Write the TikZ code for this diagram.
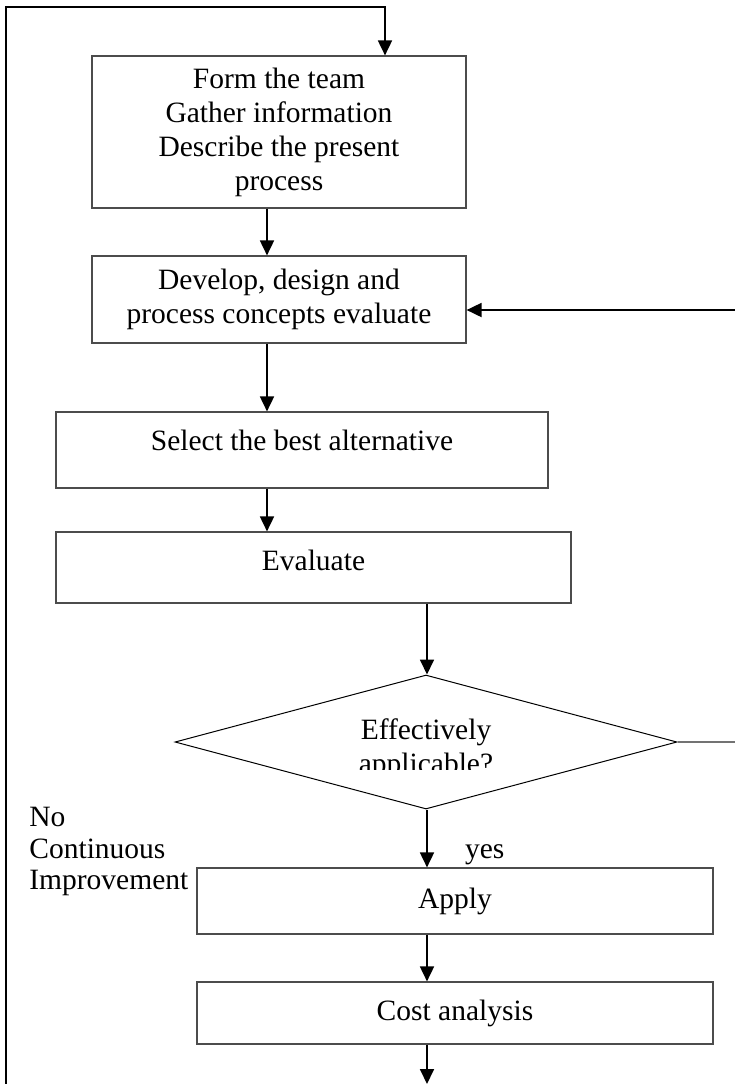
\documentclass[tikz,border=0pt]{standalone}
\usepackage{fontspec}
\setmainfont{Liberation Serif}
\usetikzlibrary{arrows.meta,shapes.geometric}

\begin{document}
\begin{tikzpicture}[x=0.5pt,y=-0.5pt,
  every node/.style={font=\fontsize{14.75pt}{17pt}\selectfont},
  box/.style={draw=black!70,line width=0.6pt,inner sep=0pt,align=center},
  arr/.style={-{Triangle[length=7.5pt,width=7pt]},line width=0.9pt}]

\useasboundingbox (0,0) rectangle (735,1084);

% Kaesten
\node[box,minimum width=187pt,minimum height=76pt] (b1) at (279,132)
  {Form the team\\Gather information\\Describe the present\\process};
\node[box,minimum width=187pt,minimum height=43.5pt] (b2) at (279,299.5)
  {Develop, design and\\process concepts evaluate};
\node[box,minimum width=246pt,minimum height=38pt] (b3) at (302,450) {};
\node (t3) at (302,440) {Select the best alternative};
\node[box,minimum width=257.5pt,minimum height=35.5pt] (b4) at (313.5,567.5) {};
\node (t4) at (313.5,560) {Evaluate};
\node[diamond,draw,line width=0.5pt,inner sep=0pt,
  minimum width=251pt,minimum height=67pt] (dec) at (426,742) {};
\node[box,minimum width=258pt,minimum height=33pt] (ap) at (455,901) {Apply};
\node[box,minimum width=258pt,minimum height=31pt] (ca) at (455,1013) {Cost analysis};

% Frage, unten abgeschnitten
\begin{scope}
\clip (175,650) rectangle (677,769);
\node[align=center] (q) at (426,749) {Effectively\\applicable?};
\end{scope}

\node[anchor=base west] (yes) at (458,858) {yes};
\node[anchor=north west,align=left,inner sep=0pt,
  font=\fontsize{14.75pt}{15.75pt}\selectfont] (no) at (29,807)
  {No\\Continuous\\Improvement};

% Hilfspunkte
\coordinate (c0) at (385,0);
\coordinate (c1) at (267,0);
\coordinate (c2) at (427,0);
\coordinate (lt) at (6,7);
\coordinate (lb) at (6,1084);
\coordinate (rt) at (735,310);
\coordinate (rd) at (735,742);
\coordinate (end) at (427,1084);

% Rueckfuehrung links
\draw[arr] (lb) -- (lt) -| (b1.north -| c0);
% Pfeile
\draw[arr] (b1.south -| c1) -- (b2.north -| c1);
\draw[arr] (b2.south -| c1) -- (b3.north -| c1);
\draw[arr] (b3.south -| c1) -- (b4.north -| c1);
\draw[arr] (b4.south -| c2) -- (dec.north -| c2);
\draw[arr] (dec.south -| c2) -- (ap.north -| c2);
\draw[arr] (ap.south -| c2) -- (ca.north -| c2);
\draw[arr] (ca.south -| c2) -- (end);
\draw[arr] (rt) -- (b2.east |- rt);
\draw[black!55,line width=0.6pt] (dec.east) -- (rd);

\end{tikzpicture}
\end{document}
